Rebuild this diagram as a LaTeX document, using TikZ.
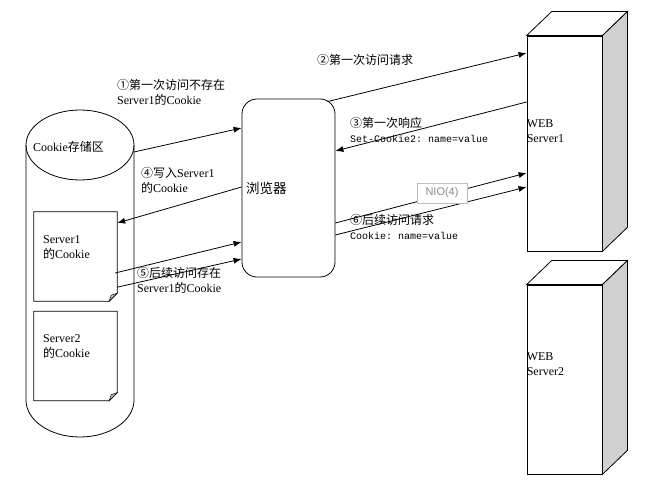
\documentclass[tikz,border=0pt]{standalone}
\usepackage{fontspec}
\setmainfont{Liberation Serif}
\setsansfont{Liberation Sans}
\setmonofont{Liberation Mono}
\newfontfamily\zh{Noto Sans CJK SC}
\usepackage{tikz}
\usetikzlibrary{arrows.meta, positioning, calc}
\definecolor{SideGray}{HTML}{D0D0D0}
\definecolor{FoldGray}{HTML}{B8B8B8}
\definecolor{TagBorder}{HTML}{BDBDBD}
\definecolor{TagText}{HTML}{8A8A8A}

\begin{document}
\begin{tikzpicture}[x=1pt, y=-1pt,
    every node/.style={font=\fontsize{12}{15}\selectfont},
    ln/.style={line width=0.8pt},
    arr/.style={-{Latex[length=8pt,width=6pt]}, line width=0.8pt},
    lbl/.style={anchor=west, align=left, inner sep=0pt},
    code/.style={font=\ttfamily\fontsize{10}{14}\selectfont},
    doc/.style={minimum width=83, minimum height=89, inner sep=0pt},
    srv/.style={draw, fill=white, line width=0.8pt, minimum width=75, inner sep=0pt},
    face/.style={draw, line width=0.8pt, fill=#1}
  ]
    \useasboundingbox (0,0) rectangle (650,486);

    % Cookie store
    \draw[ln] (26,145) -- (26,400)
      arc[start angle=180, end angle=360, x radius=54pt, y radius=37pt] -- (134,145);
    \draw[ln] (80,145) ellipse [x radius=54pt, y radius=35pt];
    \coordinate (store) at (134,152);
    \node[lbl] (storetxt) at (33,147) {Cookie{\zh 存储区}};

    % Cookie files
    \node[doc] (doc1) at (75.5,256.5) {};
    \node[doc] (doc2) at (75.5,356) {};
    \foreach \d in {doc1,doc2} {
      \draw[ln] (\d.south west) -- (\d.north west) -- (\d.north east)
        -- ($(\d.south east)+(0,-8)$) -- ($(\d.south east)+(-8,0)$) -- cycle;
      \draw[line width=0.5pt, fill=FoldGray] ($(\d.south east)+(-8,0)$)
        -- ($(\d.south east)+(0,-8)$) -- ($(\d.south east)+(-6,-6)$) -- cycle;
    }
    \node[lbl] (doc1txt) at (43,247) {Server1\\{\zh 的}Cookie};
    \node[lbl] (doc2txt) at (43,346) {Server2\\{\zh 的}Cookie};

    % Browser
    \node[draw, line width=0.8pt, rounded corners=15pt, minimum width=93,
          minimum height=178, text width=85, inner sep=4pt, align=left,
          font=\zh\fontsize{13.5}{15}\selectfont] (browser) at (288.5,188) {浏览器};

    % Web servers
    \node[srv, minimum height=215] (srv1) at (564.5,143.5) {};
    \node[srv, minimum height=189] (srv2) at (564.5,379.5) {};
    \foreach \s in {srv1,srv2} {
      \draw[face=white] (\s.north west) -- ++(25,-24)
        -- ($(\s.north east)+(25,-24)$) -- (\s.north east) -- cycle;
      \draw[face=SideGray] (\s.north east) -- ++(25,-24)
        -- ($(\s.south east)+(25,-24)$) -- (\s.south east) -- cycle;
    }
    \node[lbl] (srv1txt) at ($(srv1.west)+(0,-12)$) {WEB\\Server1};
    \node[lbl] (srv2txt) at ($(srv2.west)+(0,-15)$) {WEB\\Server2};

    % Arrows
    \draw[arr] (store) -- ($(browser.west)+(0,-60)$);
    \draw[arr] ($(browser.north east)+(-8,3)$) -- ($(srv1.west)+(0,-90.5)$);
    \draw[arr] ($(srv1.west)+(0,-41.5)$) -- ($(browser.east)+(0,-37)$);
    \draw[arr] ($(browser.west)+(0,-1)$) -- ($(doc1.east)+(0,-33.5)$);
    \draw[arr] ($(doc1.east)+(-2,16.5)$) -- ($(browser.west)+(0,54)$);
    \draw[arr] ($(doc1.south east)+(0,-14)$) -- ($(browser.west)+(0,71)$);
    \draw[arr] ($(browser.east)+(0,35)$) -- ($(srv1.west)+(0,29.5)$);
    \draw[arr] ($(browser.east)+(0,47)$) -- ($(srv1.west)+(0,43.5)$);

    % Labels
    \node[lbl] (l1) at (117,92) {{\zh ①第一次访问不存在}\\Server1{\zh 的}Cookie};
    \node[lbl] (l2) at (317,60) {\zh ②第一次访问请求};
    \node[lbl] (l3) at (350,129.5)
      {{\zh ③第一次响应}\\{\ttfamily\fontsize{10}{14}\selectfont Set-Cookie2: name=value}};
    \node[lbl] (l4) at (141,180) {{\zh ④写入}Server1\\{\zh 的}Cookie};
    \node[lbl] (l5) at (137,280) {{\zh ⑤后续访问存在}\\Server1{\zh 的}Cookie};
    \node[lbl] (l6) at (350,227)
      {{\zh ⑥后续访问请求}\\{\ttfamily\fontsize{10}{14}\selectfont Cookie: name=value}};
    \node[draw=TagBorder, fill=white, text=TagText, minimum width=50, minimum height=20,
          inner sep=1pt, font=\sffamily\fontsize{11}{13}\selectfont] (nio) at (442,193) {NIO(4)};
  \end{tikzpicture}
\end{document}
